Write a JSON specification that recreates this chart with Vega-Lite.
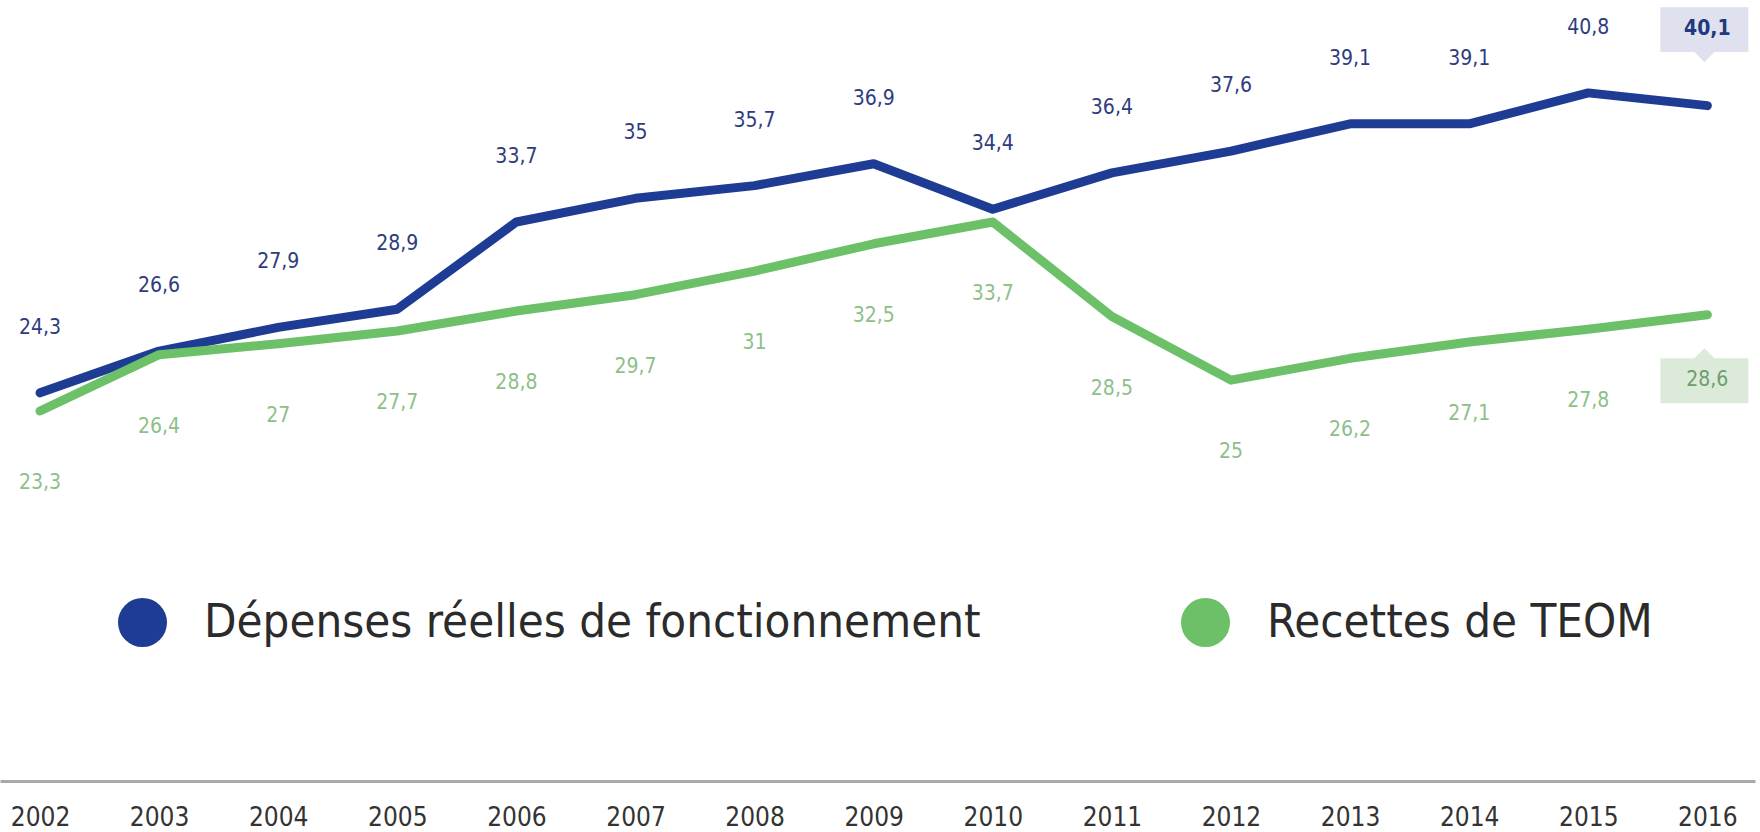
{
  "$schema": "https://vega.github.io/schema/vega-lite/v6.json",
  "width": 1755,
  "height": 781,
  "autosize": "none",
  "padding": {"left": 0, "top": 0, "right": 5, "bottom": 51},
  "background": "white",
  "config": {"view": {"stroke": null}, "font": "Liberation Sans Narrow, DejaVu Sans Condensed, sans-serif"},
  "data": {"values": [
    {"year": 2002, "series": "Dépenses réelles de fonctionnement", "value": 24.3, "label": "24,3"},
    {"year": 2003, "series": "Dépenses réelles de fonctionnement", "value": 26.6, "label": "26,6"},
    {"year": 2004, "series": "Dépenses réelles de fonctionnement", "value": 27.9, "label": "27,9"},
    {"year": 2005, "series": "Dépenses réelles de fonctionnement", "value": 28.9, "label": "28,9"},
    {"year": 2006, "series": "Dépenses réelles de fonctionnement", "value": 33.7, "label": "33,7"},
    {"year": 2007, "series": "Dépenses réelles de fonctionnement", "value": 35, "label": "35"},
    {"year": 2008, "series": "Dépenses réelles de fonctionnement", "value": 35.7, "label": "35,7"},
    {"year": 2009, "series": "Dépenses réelles de fonctionnement", "value": 36.9, "label": "36,9"},
    {"year": 2010, "series": "Dépenses réelles de fonctionnement", "value": 34.4, "label": "34,4"},
    {"year": 2011, "series": "Dépenses réelles de fonctionnement", "value": 36.4, "label": "36,4"},
    {"year": 2012, "series": "Dépenses réelles de fonctionnement", "value": 37.6, "label": "37,6"},
    {"year": 2013, "series": "Dépenses réelles de fonctionnement", "value": 39.1, "label": "39,1"},
    {"year": 2014, "series": "Dépenses réelles de fonctionnement", "value": 39.1, "label": "39,1"},
    {"year": 2015, "series": "Dépenses réelles de fonctionnement", "value": 40.8, "label": "40,8"},
    {"year": 2016, "series": "Dépenses réelles de fonctionnement", "value": 40.1, "label": "40,1"},
    {"year": 2002, "series": "Recettes de TEOM", "value": 23.3, "label": "23,3"},
    {"year": 2003, "series": "Recettes de TEOM", "value": 26.4, "label": "26,4"},
    {"year": 2004, "series": "Recettes de TEOM", "value": 27, "label": "27"},
    {"year": 2005, "series": "Recettes de TEOM", "value": 27.7, "label": "27,7"},
    {"year": 2006, "series": "Recettes de TEOM", "value": 28.8, "label": "28,8"},
    {"year": 2007, "series": "Recettes de TEOM", "value": 29.7, "label": "29,7"},
    {"year": 2008, "series": "Recettes de TEOM", "value": 31, "label": "31"},
    {"year": 2009, "series": "Recettes de TEOM", "value": 32.5, "label": "32,5"},
    {"year": 2010, "series": "Recettes de TEOM", "value": 33.7, "label": "33,7"},
    {"year": 2011, "series": "Recettes de TEOM", "value": 28.5, "label": "28,5"},
    {"year": 2012, "series": "Recettes de TEOM", "value": 25, "label": "25"},
    {"year": 2013, "series": "Recettes de TEOM", "value": 26.2, "label": "26,2"},
    {"year": 2014, "series": "Recettes de TEOM", "value": 27.1, "label": "27,1"},
    {"year": 2015, "series": "Recettes de TEOM", "value": 27.8, "label": "27,8"},
    {"year": 2016, "series": "Recettes de TEOM", "value": 28.6, "label": "28,6"}
  ]},
  "encoding": {
    "x": {"field": "year", "type": "quantitative",
      "scale": {"domain": [2001.664, 2016.4], "nice": false, "zero": false},
      "axis": {"values": [2002,2003,2004,2005,2006,2007,2008,2009,2010,2011,2012,2013,2014,2015,2016],
        "format": "d", "title": null, "grid": false, "ticks": false, "tickSize": 0,
        "labelFontSize": 26, "labelColor": "#333333", "labelPadding": 23, "labelFlush": false,
        "domainColor": "#a9a9a9", "domainWidth": 3}},
    "y": {"field": "value", "type": "quantitative",
      "scale": {"domain": [2.95, 45.91], "nice": false, "zero": false}, "axis": null}
  },
  "layer": [
    {
      "mark": {"type": "line", "strokeWidth": 9, "strokeCap": "round", "strokeJoin": "round"},
      "encoding": {
        "color": {"field": "series", "type": "nominal",
          "scale": {"domain": ["Dépenses réelles de fonctionnement", "Recettes de TEOM"], "range": ["#1f3c94", "#6cc068"]},
          "legend": {"orient": "none", "legendX": 118, "legendY": 598, "direction": "horizontal", "title": null,
            "symbolType": "circle", "symbolSize": 2401, "symbolStrokeWidth": 0,
            "labelFontSize": 47, "labelColor": "#2b2b2b", "labelLimit": 2000, "labelOffset": 37,
            "columnPadding": 200, "padding": 0,
            "encode": {"symbols": {"update": {"fill": {"scale": "color", "field": "value"}, "strokeWidth": {"value": 0}, "opacity": {"value": 1}}}}}}
      }
    },
    {
      "transform": [{"filter": "datum.series == 'Dépenses réelles de fonctionnement' && datum.year < 2016"}],
      "mark": {"type": "text", "dy": -65, "fontSize": 21, "color": "#2e3c7e", "baseline": "middle", "align": "center"},
      "encoding": {"text": {"field": "label"}}
    },
    {
      "transform": [{"filter": "datum.series == 'Recettes de TEOM' && datum.year < 2016"}],
      "mark": {"type": "text", "dy": 72, "fontSize": 21, "color": "#8dbf89", "baseline": "middle", "align": "center"},
      "encoding": {"text": {"field": "label"}}
    },
    {
      "transform": [{"filter": "datum.series == 'Dépenses réelles de fonctionnement' && datum.year == 2016"}],
      "mark": {"type": "point", "filled": true, "size": 7744, "yOffset": -76, "xOffset": -3, "opacity": 1, "strokeWidth": 0,
        "color": "#dfe2ee",
        "shape": "M-1,-0.511L1,-0.511L1,0.511L0.227,0.511L0,0.739L-0.227,0.511L-1,0.511Z"}
    },
    {
      "transform": [{"filter": "datum.series == 'Recettes de TEOM' && datum.year == 2016"}],
      "mark": {"type": "point", "filled": true, "size": 7744, "yOffset": 66, "xOffset": -3, "opacity": 1, "strokeWidth": 0,
        "color": "#dcebd9",
        "shape": "M-1,-0.511L-0.227,-0.511L0,-0.739L0.227,-0.511L1,-0.511L1,0.511L-1,0.511Z"}
    },
    {
      "transform": [{"filter": "datum.series == 'Dépenses réelles de fonctionnement' && datum.year == 2016"}],
      "mark": {"type": "text", "dy": -77, "fontSize": 21, "fontWeight": "bold", "color": "#22387f", "baseline": "middle", "align": "center"},
      "encoding": {"text": {"field": "label"}}
    },
    {
      "transform": [{"filter": "datum.series == 'Recettes de TEOM' && datum.year == 2016"}],
      "mark": {"type": "text", "dy": 65, "fontSize": 21, "color": "#6f9d6c", "baseline": "middle", "align": "center"},
      "encoding": {"text": {"field": "label"}}
    }
  ]
}
